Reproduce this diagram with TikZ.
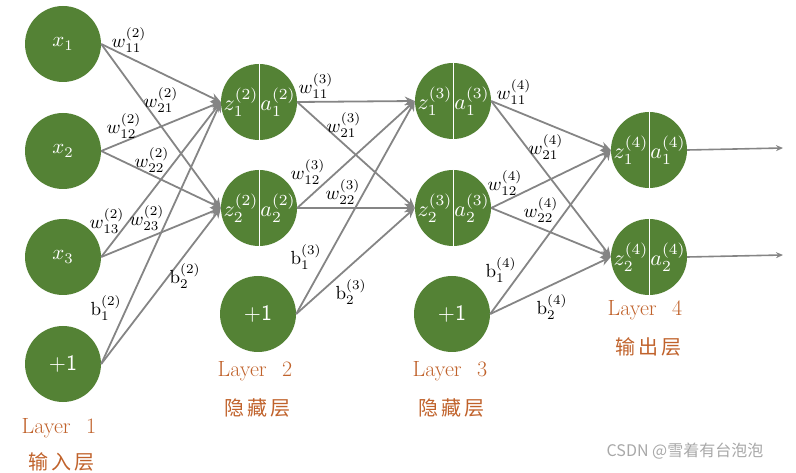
\documentclass[tikz,border=0pt]{standalone}
\usepackage{fontspec}
\usepackage{graphicx}
\usetikzlibrary{arrows.meta}
\newfontfamily\cjk[LetterSpace=15]{Noto Sans CJK SC}
\newfontfamily\cjkwm{Noto Sans CJK SC}
\definecolor{ngreen}{HTML}{548235}
\definecolor{egray}{HTML}{858585}
\definecolor{lorange}{HTML}{C0622B}
\definecolor{wmgray}{HTML}{A8A8A8}
\newcommand{\scmath}[2]{\scalebox{#1}{$#2$}}
\tikzset{
  neuron/.style={circle, fill=ngreen, minimum size=76pt, inner sep=0pt, text=white},
  ntext/.style={text=white, inner sep=0pt},
  divider/.style={draw=white, line width=0.9pt},
  conn/.style={draw=egray, line width=1.8pt, -{Stealth[length=10pt,width=9pt]}},
  outconn/.style={draw=egray, line width=1.6pt, -{Stealth[length=7pt,width=6pt]}},
  wlab/.style={inner sep=0pt},
  laytext/.style={text=lorange, inner sep=0pt, font=\fontsize{22}{24}\selectfont},
  laycjk/.style={text=lorange, inner sep=0pt, font=\cjk\fontsize{20}{22}\selectfont},
}
\newcommand{\plusone}{\scalebox{2.2}{\sffamily +1}}
\begin{document}
\begin{tikzpicture}[x=1pt,y=-1pt]
\useasboundingbox (0,0) rectangle (796,473);
% layer 1
\node[neuron] (x1) at (63,44) {\scmath{2.1}{x_1}};
\node[neuron] (x2) at (63,151) {\scmath{2.1}{x_2}};
\node[neuron] (x3) at (63,257) {\scmath{2.1}{x_3}};
\node[neuron] (b1) at (63,364) {\plusone};
% layer 2
\node[neuron] (h21) at (259,102) {};
\node[neuron] (h22) at (259,208) {};
\node[neuron] (b2) at (258,314) {\plusone};
% layer 3
\node[neuron] (h31) at (453,101) {};
\node[neuron] (h32) at (453,208) {};
\node[neuron] (b3) at (452,314) {\plusone};
% layer 4
\node[neuron] (o1) at (649,150) {};
\node[neuron] (o2) at (649,257) {};
% dividers and z/a texts
\foreach \n/\l/\i in {h21/2/1,h22/2/2,h31/3/1,h32/3/2,o1/4/1,o2/4/2}{
  \draw[divider] (\n.north) -- (\n.south);
  \node[ntext] (\n z) at ([xshift=-18pt]\n.center) {\scmath{2.2}{z^{(\l)}_{\i}}};
  \node[ntext] (\n a) at ([xshift=19pt]\n.center) {\scmath{2.2}{a^{(\l)}_{\i}}};
}
% connections layer 1 -> 2
\foreach \s in {x1,x2,x3,b1}{
  \draw[conn] (\s.east) -- (h21.west);
  \draw[conn] (\s.east) -- (h22.west);
}
% layer 2 -> 3
\foreach \s in {h21,h22,b2}{
  \draw[conn] (\s.east) -- (h31.west);
  \draw[conn] (\s.east) -- (h32.west);
}
% layer 3 -> 4
\foreach \s in {h31,h32,b3}{
  \draw[conn] (\s.east) -- (o1.west);
  \draw[conn] (\s.east) -- (o2.west);
}
% outputs
\coordinate (y1) at (783,148);
\coordinate (y2) at (783,255);
\draw[outconn] (o1.east) -- (y1);
\draw[outconn] (o2.east) -- (y2);
% weight labels layer 2
\node[wlab] (w211) at (129,40) {\scmath{1.9}{w^{(2)}_{11}}};
\node[wlab] (w221) at (161,100) {\scmath{1.9}{w^{(2)}_{21}}};
\node[wlab] (w212) at (124,126) {\scmath{1.9}{w^{(2)}_{12}}};
\node[wlab] (w222) at (152,160) {\scmath{1.9}{w^{(2)}_{22}}};
\node[wlab] (w213) at (107,221) {\scmath{1.9}{w^{(2)}_{13}}};
\node[wlab] (w223) at (147,218) {\scmath{1.9}{w^{(2)}_{23}}};
\node[wlab] (bb21) at (106,308) {\scmath{1.9}{\mathrm{b}^{(2)}_{1}}};
\node[wlab] (bb22) at (185,276) {\scmath{1.9}{\mathrm{b}^{(2)}_{2}}};
% weight labels layer 3
\node[wlab] (w311) at (316,86) {\scmath{1.9}{w^{(3)}_{11}}};
\node[wlab] (w321) at (344,125) {\scmath{1.9}{w^{(3)}_{21}}};
\node[wlab] (w312) at (308,172) {\scmath{1.9}{w^{(3)}_{12}}};
\node[wlab] (w322) at (343,192) {\scmath{1.9}{w^{(3)}_{22}}};
\node[wlab] (bb31) at (306,257) {\scmath{1.9}{\mathrm{b}^{(3)}_{1}}};
\node[wlab] (bb32) at (351,292) {\scmath{1.9}{\mathrm{b}^{(3)}_{2}}};
% weight labels layer 4
\node[wlab] (w411) at (514,92) {\scmath{1.9}{w^{(4)}_{11}}};
\node[wlab] (w421) at (546,147) {\scmath{1.9}{w^{(4)}_{21}}};
\node[wlab] (w412) at (505,183) {\scmath{1.9}{w^{(4)}_{12}}};
\node[wlab] (w422) at (541,210) {\scmath{1.9}{w^{(4)}_{22}}};
\node[wlab] (bb41) at (501,270) {\scmath{1.9}{\mathrm{b}^{(4)}_{1}}};
\node[wlab] (bb42) at (552,307) {\scmath{1.9}{\mathrm{b}^{(4)}_{2}}};
% layer captions
\node[laytext] (L1) at (59,428) {Layer\hspace{0.7em}1};
\node[laycjk] (C1) at (61,462) {输入层};
\node[laytext] (L2) at (255,371) {Layer\hspace{0.7em}2};
\node[laycjk] (C2) at (257,408) {隐藏层};
\node[laytext] (L3) at (450,371) {Layer\hspace{0.7em}3};
\node[laycjk] (C3) at (451,408) {隐藏层};
\node[laytext] (L4) at (645,310) {Layer\hspace{0.7em}4};
\node[laycjk] (C4) at (648,347) {输出层};
% watermark
\node[text=wmgray, inner sep=0pt, font=\cjkwm\fontsize{16}{18}\selectfont] (wm) at (685,451) {CSDN @雪着有台泡泡};
\end{tikzpicture}
\end{document}
